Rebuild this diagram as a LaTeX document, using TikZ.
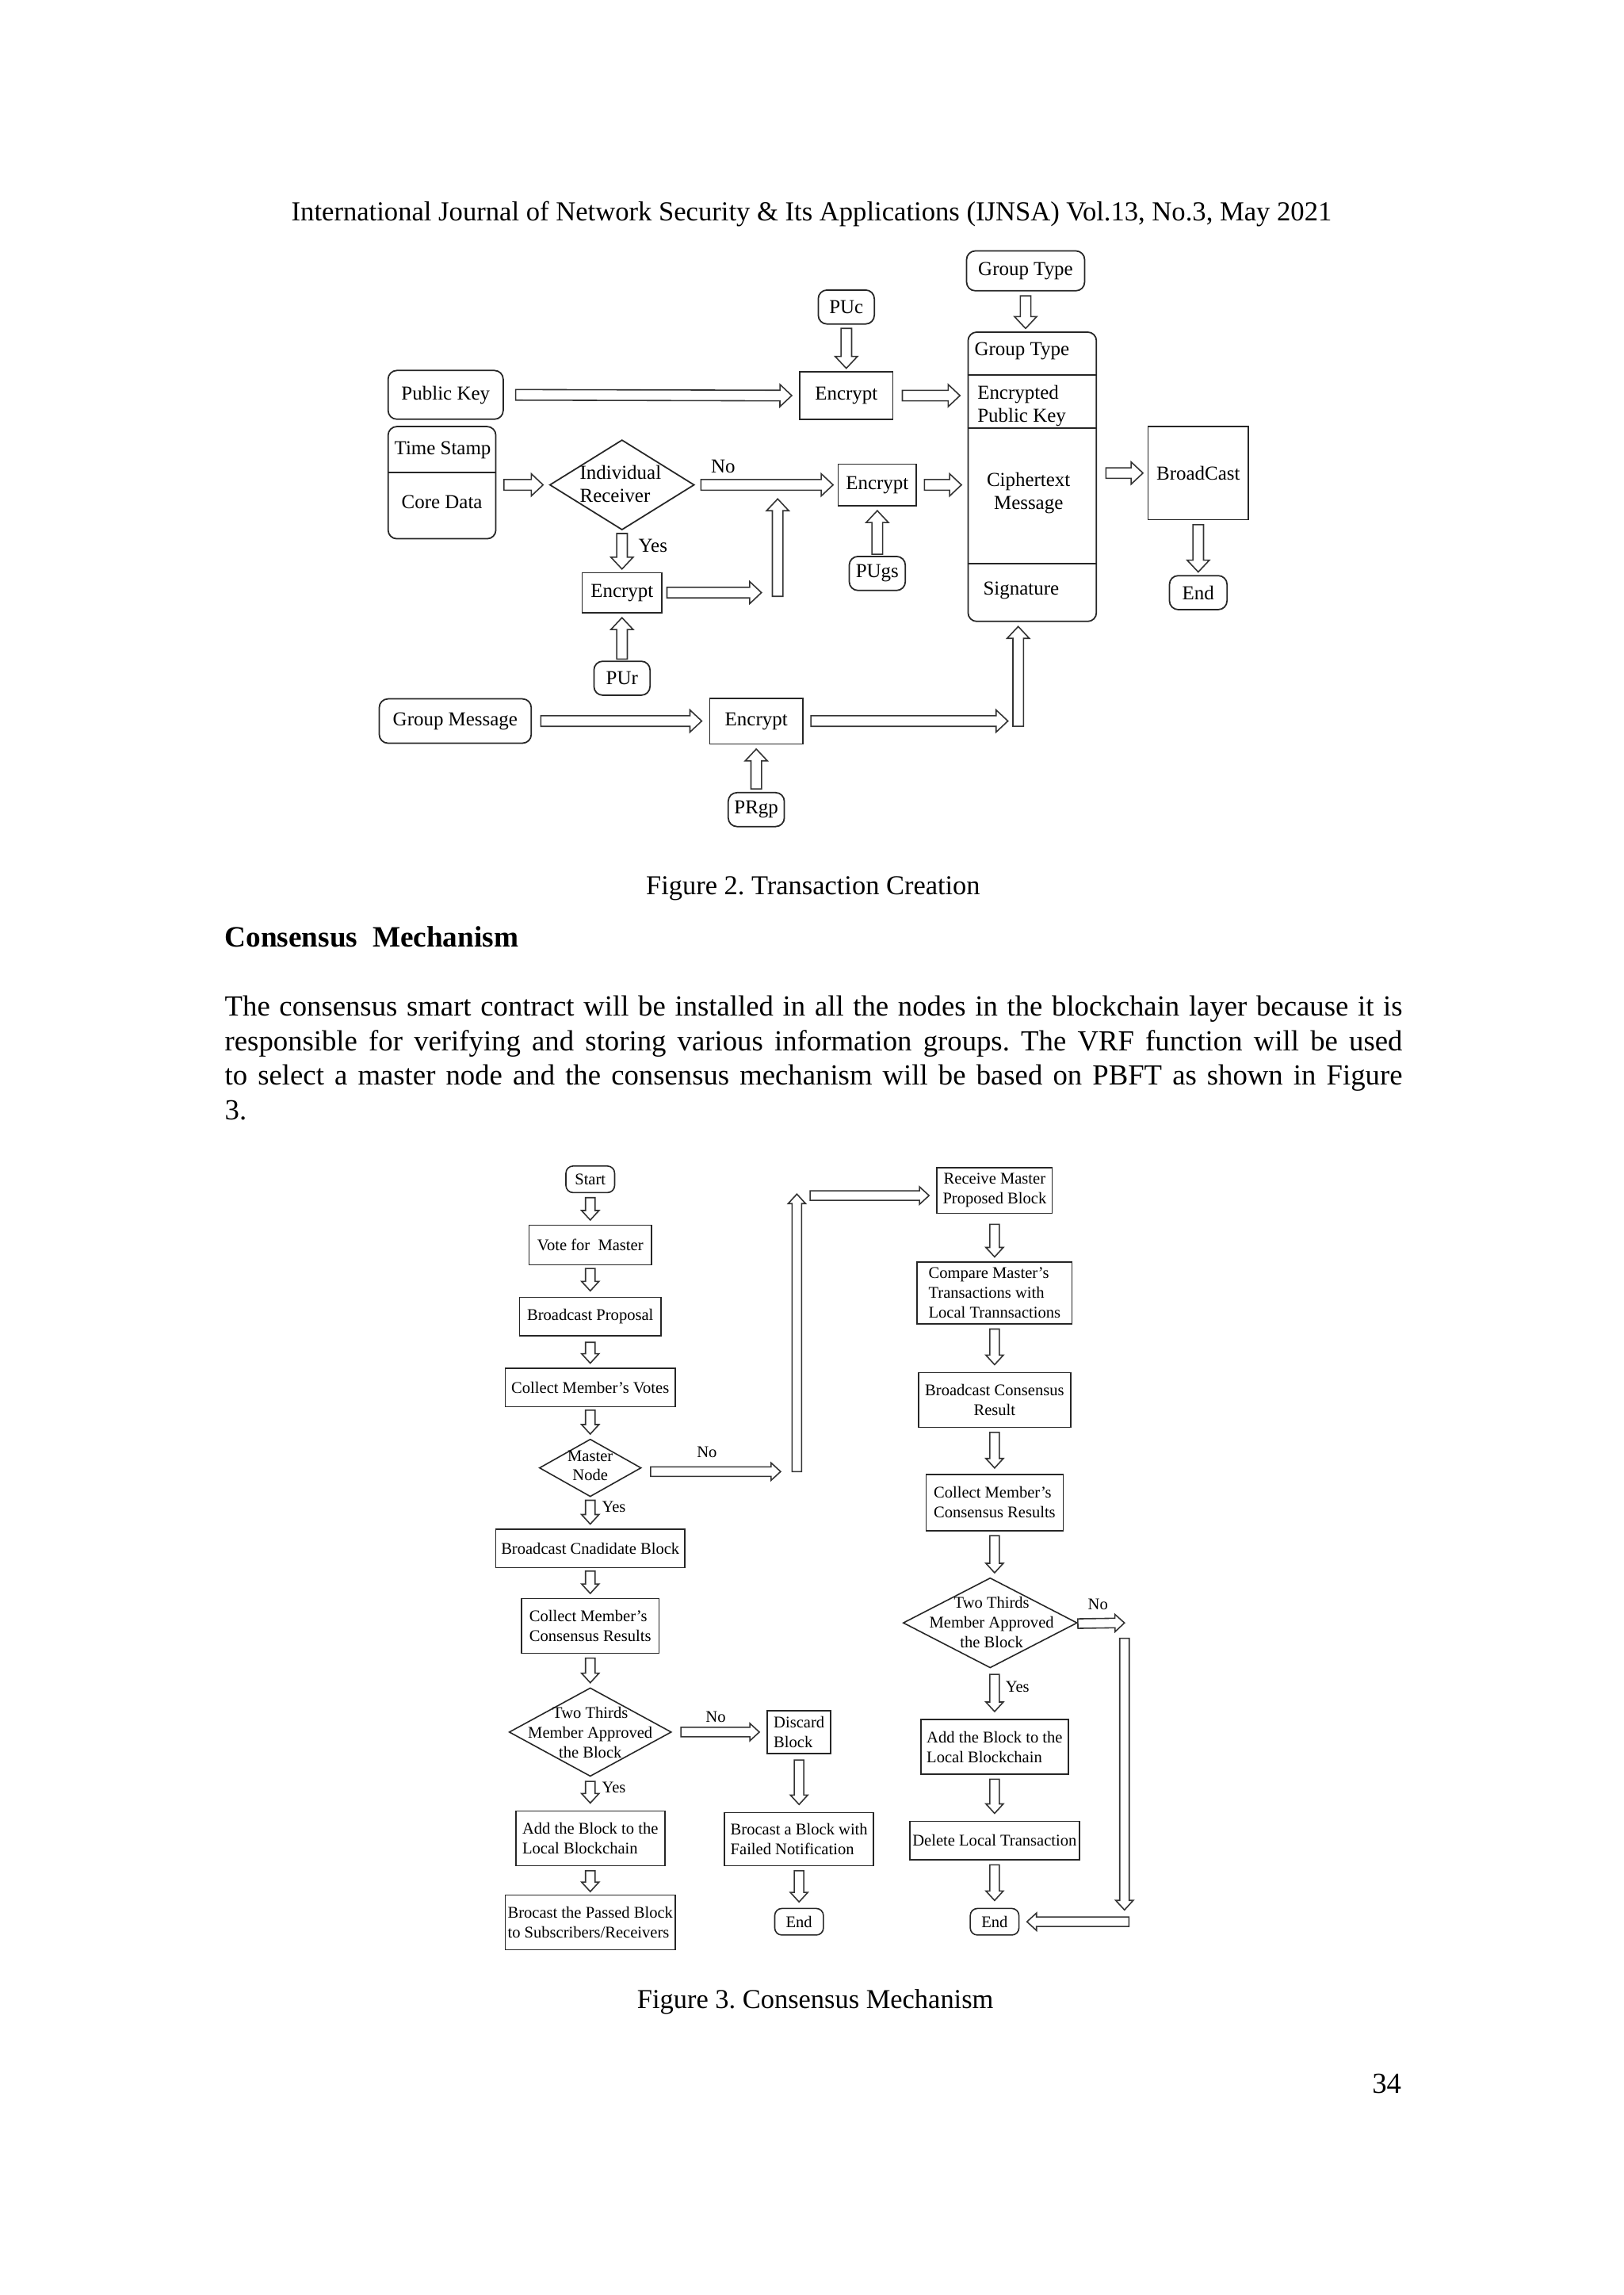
\documentclass[tikz,border=0pt]{standalone}
\usepackage{fontspec}
\setmainfont{Liberation Serif}
\usetikzlibrary{calc,shapes.geometric}
\frenchspacing

\newdimen\px \px=0.1862mm
\newcommand{\bodyfont}{\fontsize{10.45}{12.3}\selectfont}
\newcommand{\capfont}{\fontsize{9.8}{12}\selectfont}
\newcommand{\twofont}{\fontsize{7.1}{8.2}\selectfont}
\newcommand{\threefont}{\fontsize{5.85}{7.1}\selectfont}

% hollow block arrow sizes (half shaft, half head, head length)
\newcommand{\blkshaft}{0.67mm}
\newcommand{\blkwing}{1.4mm}
\newcommand{\blkhead}{1.49mm}
% hollow block arrow from #1 to #2
\newcommand{\blk}[2]{%
  \coordinate (ba) at (#1);
  \coordinate (bb) at (#2);
  \coordinate (bh) at ($(bb)!\blkhead!(ba)$);
  \draw[blkline] ($(ba)!\blkshaft!90:(bb)$) -- ($(bh)!\blkshaft!90:(bb)$)
    -- ($(bh)!\blkwing!90:(bb)$) -- (bb) -- ($(bh)!\blkwing!-90:(bb)$)
    -- ($(bh)!\blkshaft!-90:(bb)$) -- ($(ba)!\blkshaft!-90:(bb)$) -- cycle;}

\tikzset{
  wh/.style 2 args={minimum width=#1*\px, minimum height=#2*\px},
  blkline/.style={draw=black!80, line width=0.45pt, fill=white, line join=miter},
  twobox/.style={draw=black!85, line width=0.5pt, inner sep=0pt, font=\twofont, align=center},
  tworbox/.style={twobox, rounded corners=1.1mm},
  twotxt/.style={inner sep=0pt, font=\twofont},
  twodiam/.style={twobox, shape=diamond},
  threebox/.style={draw=black!85, line width=0.45pt, inner sep=0pt, font=\threefont, align=center},
  threerbox/.style={threebox, rounded corners=0.9mm},
  threetxt/.style={inner sep=0pt, font=\threefont, align=center},
  threediam/.style={threebox, shape=diamond},
  divider/.style={draw=black!85, line width=0.5pt},
}

\begin{document}
\begin{tikzpicture}[x=0.1862mm, y=-0.1862mm]
\useasboundingbox[fill=white] (0,0) rectangle (1100,1554.9);

% page header
\node[anchor=base, inner sep=0pt, font=\fontsize{9.85}{12}\selectfont] (hdr) at (550,149.5)
  {International Journal of Network Security \& Its Applications (IJNSA) Vol.13, No.3, May 2021};

%%% Figure 2
\node[tworbox, wh={80}{27}] (gtype) at (695,183.5) {Group Type};
\node[tworbox, wh={38}{23}] (puc) at (573.5,208) {PUc};
\node[tworbox, wh={78}{33}] (pk) at (302,267.5) {Public Key};
\node[twobox, wh={63}{32}] (enc1) at (573.5,268) {Encrypt};

% transaction packet
\node[tworbox, wh={87}{196}] (pkt) at (699.5,323) {};
\draw[divider] (pkt.west |- 0,254) -- (pkt.east |- 0,254);
\draw[divider] (pkt.west |- 0,290) -- (pkt.east |- 0,290);
\draw[divider] (pkt.west |- 0,382) -- (pkt.east |- 0,382);
\node[twotxt, anchor=west] (gtf) at (660,238) {Group Type};
\node[twotxt, anchor=west, align=left] (epk) at (662,275) {Encrypted\\Public Key};
\node[twotxt, align=center] (ctm) at (697,334) {Ciphertext\\Message};
\node[twotxt] (sig) at (692,400) {Signature};

\node[tworbox, wh={73}{76}] (tscd) at (299.5,327) {};
\draw[divider] (tscd.west |- 0,320) -- (tscd.east |- 0,320);
\node[twotxt] (ts) at (300,305) {Time Stamp};
\node[twotxt] (cd) at (299.5,340) {Core Data};

\node[twodiam, wh={98}{61}] (ir) at (421.5,328.5) {};
\node[twotxt, align=left] (irt) at (420.5,328) {Individual\\Receiver};
\node[twobox, wh={53}{28}] (enc2) at (594.5,328.5) {Encrypt};
\node[tworbox, wh={38}{23}] (pugs) at (594.5,388.5) {PUgs};
\node[twobox, wh={68}{63}] (bc) at (812,320.5) {BroadCast};
\node[tworbox, wh={39}{23}] (end1) at (812,401.5) {End};
\node[twobox, wh={54}{27}] (enc3) at (421.5,401.5) {Encrypt};
\node[tworbox, wh={38}{23}] (pur) at (421.5,459.5) {PUr};
\node[tworbox, wh={103}{30}] (gm) at (308.5,488.5) {Group Message};
\node[twobox, wh={63}{31}] (enc4) at (512.5,488.5) {Encrypt};
\node[tworbox, wh={38}{23}] (prgp) at (512.5,548.5) {PRgp};

\node[twotxt] (no1) at (490,316) {No};
\node[twotxt] (yes1) at (442.5,370) {Yes};

\coordinate (j1) at (516,401.5);
\coordinate (j2) at (527,404);
\coordinate (j3) at (527,338);
\coordinate (j4) at (683,488.5);
\coordinate (j5) at (690,492);

\blk{$(gtype.south)+(0,3)$}{$(gtype.south |- pkt.north)+(0,-2)$}
\blk{$(puc.south)+(0,2.5)$}{$(enc1.north)+(0,-2)$}
\blk{$(pk.east)+(8,0)$}{$(enc1.west)+(-5,0)$}
\blk{$(enc1.east)+(6,0)$}{$(enc1.east -| pkt.west)+(-5,0)$}
\blk{$(tscd.east |- ir.west)+(5,0)$}{$(ir.west)+(-4,0)$}
\blk{$(ir.east)+(4,0)$}{$(enc2.west)+(-3,0)$}
\blk{$(enc2.east)+(5,0)$}{$(enc2.east -| pkt.west)+(-4,0)$}
\blk{$(pugs.north)+(0,-1)$}{$(enc2.south)+(0,3)$}
\blk{$(pkt.east |- bc.west)+(6,0)$}{$(bc.west)+(-3,0)$}
\blk{$(bc.south)+(0,3)$}{$(end1.north)+(0,-2)$}
\blk{$(ir.south)+(0,2)$}{$(enc3.north)+(0,-2)$}
\blk{$(enc3.east)+(3,0)$}{j1}
\blk{j2}{j3}
\blk{$(pur.north)+(0,-1)$}{$(enc3.south)+(0,3)$}
\blk{$(gm.east)+(6,0)$}{$(enc4.west)+(-5,0)$}
\blk{$(enc4.east)+(5,0)$}{j4}
\blk{j5}{$(j5 |- pkt.south)+(0,3)$}
\blk{$(prgp.north)+(0,-2)$}{$(enc4.south)+(0,3)$}

\node[anchor=base, inner sep=0pt, font=\capfont] (cap2) at (551,606) {Figure 2. Transaction Creation};

% section text
\node[anchor=base west, inner sep=0pt, font=\fontsize{10.6}{12.3}\selectfont\bfseries] (sec) at (152,641.8) {Consensus \ Mechanism};
\node[anchor=base west, inner sep=0pt, font=\bodyfont] (par1) at (152,688.5)
  {\hbox to 798\px{The consensus smart contract will be installed in all the nodes in the blockchain layer because it is}};
\node[anchor=base west, inner sep=0pt, font=\bodyfont] (par2) at (152,711.8)
  {\hbox to 798\px{responsible for verifying and storing various information groups. The VRF function will be used}};
\node[anchor=base west, inner sep=0pt, font=\bodyfont] (par3) at (152,735.2)
  {\hbox to 798\px{to select a master node and the consensus mechanism will be based on PBFT as shown in Figure}};
\node[anchor=base west, inner sep=0pt, font=\bodyfont] (par4) at (152,758.6) {3.};

%%% Figure 3
\renewcommand{\blkshaft}{0.6mm}
\renewcommand{\blkwing}{1.1mm}
\renewcommand{\blkhead}{1.2mm}

\node[threerbox, wh={33}{18}] (start) at (400,799) {Start};
\node[threebox, wh={83}{27}] (vote) at (400,843.5) {Vote for \ Master};
\node[threebox, wh={96}{26}] (bprop) at (400,892) {Broadcast Proposal};
\node[threebox, wh={115}{26}] (cvotes) at (400,940) {Collect Member's Votes};
\node[threediam, wh={69}{39}] (mnode) at (400,994.5) {};
\node[threetxt] (mnodet) at (400,993) {Master\\Node};
\node[threebox, wh={128}{26}] (bcand) at (400,1049) {Broadcast Cnadidate Block};
\node[threebox, wh={93}{37}, align=left] (ccr1) at (400,1101.5) {Collect Member's\\Consensus Results};
\node[threediam, wh={110}{60}] (tt1) at (400,1173.5) {};
\node[threetxt] (tt1t) at (400,1174) {Two Thirds\\Member Approved\\the Block};
\node[threebox, wh={43}{29}, align=left] (discard) at (541.5,1173.5) {Discard\\Block};
\node[threebox, wh={101}{36}, align=left] (bfail) at (541.5,1246) {Brocast a Block with\\Failed Notification};
\node[threerbox, wh={33}{18}] (end2) at (541.5,1302) {End};
\node[threebox, wh={101}{37}, align=left] (addl) at (400,1245.5) {Add the Block to the\\Local Blockchain};
\node[threebox, wh={115}{37}, align=left] (bpass) at (400,1302.5) {Brocast the Passed Block\\to Subscribers/Receivers};

\node[threebox, wh={78}{31}] (recv) at (674,806.5) {Receive Master\\Proposed Block};
\node[threebox, wh={105}{42}, align=left] (cmp) at (674,876) {Compare Master's\\Transactions with\\Local Trannsactions};
\node[threebox, wh={103}{37}] (bcons) at (674,948.5) {Broadcast Consensus\\Result};
\node[threebox, wh={93}{38}, align=left] (ccr2) at (674,1018) {Collect Member's\\Consensus Results};
\node[threediam, wh={118}{61}] (tt2) at (671,1099.5) {};
\node[threetxt] (tt2t) at (672,1099) {Two Thirds\\Member Approved\\the Block};
\node[threebox, wh={100}{37}, align=left] (addr) at (674,1183.5) {Add the Block to the\\Local Blockchain};
\node[threebox, wh={115}{26}] (del) at (674,1247) {Delete Local Transaction};
\node[threerbox, wh={33}{18}] (end3) at (674,1302) {End};

\node[threetxt] (no2) at (479,984) {No};
\node[threetxt] (yes2) at (416,1021) {Yes};
\node[threetxt] (no3) at (485,1163) {No};
\node[threetxt] (yes3) at (416,1211) {Yes};
\node[threetxt] (no4) at (744,1087) {No};
\node[threetxt] (yes4) at (689.5,1143) {Yes};

\coordinate (k1) at (529,997);
\coordinate (k2) at (540,997);
\coordinate (k3) at (540,809);
\coordinate (k4) at (549,810);
\coordinate (m1) at (762,1099.5);
\coordinate (m2) at (762,1110);
\coordinate (m3) at (762,1294);
\coordinate (m4) at (765,1302);

\blk{$(start.south)+(0,3)$}{$(vote.north)+(0,-3)$}
\blk{$(vote.south)+(0,2)$}{$(bprop.north)+(0,-4)$}
\blk{$(bprop.south)+(0,4)$}{$(cvotes.north)+(0,-3)$}
\blk{$(cvotes.south)+(0,2)$}{$(mnode.north)+(0,-3)$}
\blk{$(mnode.south)+(0,2)$}{$(bcand.north)+(0,-3)$}
\blk{$(mnode.east |- k1)+(6,0)$}{k1}
\blk{k2}{k3}
\blk{k4}{$(k4 -| recv.west)+(-5,0)$}
\blk{$(bcand.south)+(0,2)$}{$(ccr1.north)+(0,-3)$}
\blk{$(ccr1.south)+(0,3)$}{$(tt1.north)+(0,-3)$}
\blk{$(tt1.south)+(0,3)$}{$(addl.north)+(0,-5)$}
\blk{$(tt1.east |- discard.west)+(6,0)$}{$(discard.west)+(-5,0)$}
\blk{$(discard.south)+(0,4)$}{$(bfail.north)+(0,-5)$}
\blk{$(bfail.south)+(0,3)$}{$(end2.north)+(0,-4)$}
\blk{$(addl.south)+(0,3)$}{$(bpass.north)+(0,-2)$}
\blk{$(recv.south)+(0,7)$}{$(cmp.north)+(0,-3)$}
\blk{$(cmp.south)+(0,3)$}{$(bcons.north)+(0,-5)$}
\blk{$(bcons.south)+(0,3)$}{$(ccr2.north)+(0,-4)$}
\blk{$(ccr2.south)+(0,3)$}{$(ccr2.south |- tt2.north)+(0,-3)$}
\blk{$(ccr2.south |- tt2.south)+(0,4)$}{$(addr.north)+(0,-5)$}
\blk{$(addr.south)+(0,3)$}{$(del.north)+(0,-5)$}
\blk{$(del.south)+(0,3)$}{$(end3.north)+(0,-5)$}
\blk{$(tt2.east)+(0,0.5)$}{m1}
\blk{m2}{m3}
\blk{m4}{$(end3.east)+(5,0)$}

\node[anchor=base, inner sep=0pt, font=\capfont] (cap3) at (552.5,1360.5) {Figure 3. Consensus Mechanism};
\node[anchor=base east, inner sep=0pt, font=\bodyfont] (pgno) at (950,1418) {34};
\end{tikzpicture}
\end{document}
